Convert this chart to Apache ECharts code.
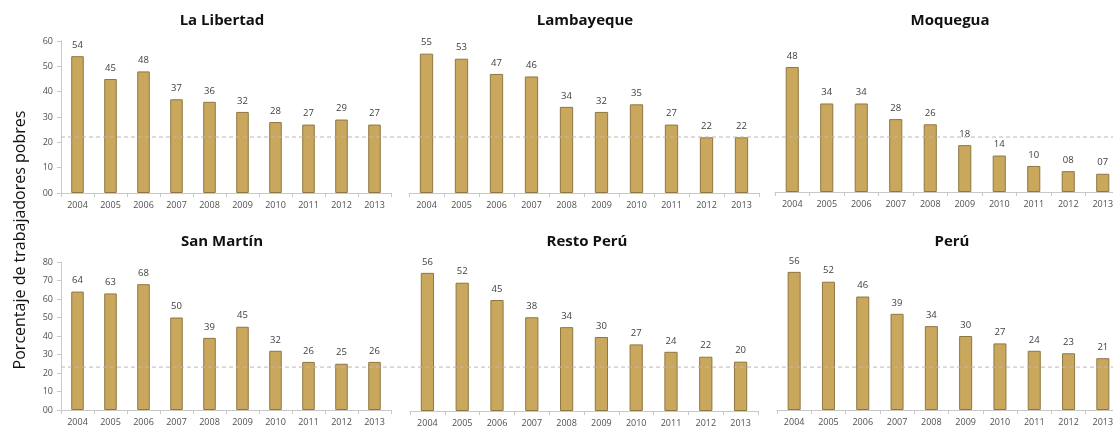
<!DOCTYPE html>
<html>
<head>
<meta charset="utf-8">
<script src="https://cdn.jsdelivr.net/npm/echarts@6/dist/echarts.min.js"></script>
<style>html,body{margin:0;padding:0;background:#fff;overflow:hidden;width:1113px;height:432px}#c{width:1125px;height:432px}</style>
</head>
<body>
<div id="c"></div>
<script>
const years = ['2004','2005','2006','2007','2008','2009','2010','2011','2012','2013'];
const laLibertad = [54,45,48,37,36,32,28,27,29,27];
const lambayeque = [55,53,47,46,34,32,35,27,22,22];
const moquegua   = [48,34,34,28,26,18,14,10,8,7];
const sanMartin  = [64,63,68,50,39,45,32,26,25,26];
const restoPeru  = [56,52,45,38,34,30,27,24,22,20];
const peru       = [56,52,46,39,34,30,27,24,23,21];
const titles = ['La Libertad','Lambayeque','Moquegua','San Martín','Resto Perú','Perú'];
const topTicksMax = 60, bottomTicksMax = 80;
const refTop = 22.1, refBottom = 23.2;

const panels = [
  {data: laLibertad, left: 61, width: 330, top: 41, height: 152, max: 60, showY: true},
  {data: lambayeque, left: 409, width: 350, top: 41, height: 152, max: 60, showY: false},
  {data: moquegua,   left: 775, width: 345, top: 41, height: 151, max: 58, showY: false},
  {data: sanMartin,  left: 61, width: 330, top: 262, height: 148, max: 80, showY: true},
  {data: restoPeru,  left: 410, width: 348, top: 263, height: 148, max: 60, showY: false},
  {data: peru,       left: 777, width: 343, top: 262, height: 148, max: 60, showY: false}
];
const fmt2 = v => String(v).padStart(2,'0');
const grids = [], xAxes = [], yAxes = [], series = [], titleArr = [];
const titleX = [217, 580, 945, 217, 582, 947];
panels.forEach((p, i) => {
  grids.push({left: p.left, width: p.width, top: p.top, height: p.height, containLabel: false});
  xAxes.push({type: 'category', gridIndex: i, data: years,
    axisLine: {lineStyle: {color: '#c8c8c8'}},
    axisTick: {show: true, length: 4, lineStyle: {color: '#c8c8c8'}},
    axisLabel: {fontSize: 9, color: '#505050', fontFamily: 'Open Sans', margin: 8}});
  yAxes.push({type: 'value', gridIndex: i, min: 0, max: p.max, interval: 10,
    show: true,
    axisLine: {show: p.showY, lineStyle: {color: '#c8c8c8'}},
    axisTick: {show: p.showY, length: 4, lineStyle: {color: '#c8c8c8'}},
    axisLabel: {show: p.showY, fontSize: 9, color: '#505050', fontFamily: 'Open Sans', formatter: v => fmt2(v), margin: 8},
    splitLine: {show: false}});
  series.push({type: 'bar', xAxisIndex: i, yAxisIndex: i, data: p.data, barWidth: '38%',
    itemStyle: {color: '#C9A85E', borderColor: '#8E7741', borderWidth: 1},
    label: {show: true, position: 'top', distance: 6, fontSize: 9.5, color: '#404040', fontFamily: 'Open Sans', formatter: d => fmt2(d.value)}});
  titleArr.push({text: titles[i], left: titleX[i], top: i < 3 ? 8 : 229, textAlign: 'center',
    textStyle: {fontSize: 15, fontWeight: 'bold', color: '#111', fontFamily: 'Open Sans'}});
});
// reference dashed lines spanning each row
[[41,152,topTicksMax,refTop],[262,148,bottomTicksMax,refBottom]].forEach((r, k) => {
  const gi = grids.length;
  grids.push({left: 61, right: 0, top: r[0], height: r[1]});
  xAxes.push({type: 'value', gridIndex: gi, min: 0, max: 1, show: false});
  yAxes.push({type: 'value', gridIndex: gi, min: 0, max: r[2], show: false});
  series.push({type: 'line', xAxisIndex: gi, yAxisIndex: gi, data: [[0, r[3]], [1, r[3]]],
    symbol: 'none', silent: true, z: 5,
    lineStyle: {type: [4, 3], width: 1, color: '#c4b4b4'}});
});
const chart = echarts.init(document.getElementById('c'));
chart.setOption({
  animation: false,
  title: titleArr,
  grid: grids, xAxis: xAxes, yAxis: yAxes, series: series,
  graphic: [{type: 'text', rotation: Math.PI/2, x: 20, y: 240,
    style: {text: 'Porcentaje de trabajadores pobres', fontSize: 16, fontFamily: 'Open Sans', fill: '#111', textAlign: 'center', textVerticalAlign: 'middle'}}]
});
</script>
</body>
</html>
